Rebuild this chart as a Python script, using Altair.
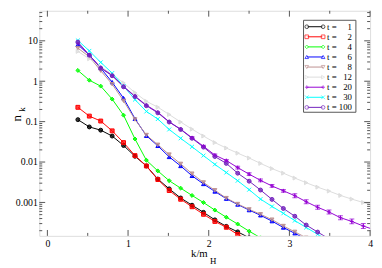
import altair as alt
import pandas as pd

# ---------------- data ----------------
k = [0.378, 0.52, 0.661, 0.803, 0.944, 1.086, 1.227, 1.369, 1.51, 1.652,
     1.793, 1.935, 2.076, 2.218, 2.359, 2.501, 2.642, 2.784, 2.925, 3.067,
     3.208, 3.35, 3.491, 3.633, 3.774, 3.916, 4.057]

n_t1 = [0.112, 0.074, 0.0615, 0.044, 0.0257, 0.0139, 0.0080, 0.0038, 0.00217, 0.00129,
        0.000855, 0.000569, 0.000371, 0.000256, 0.000187, 0.000134]
n_t2 = [0.226, 0.137, 0.1035, 0.0592, 0.0303, 0.01445, 0.0080, 0.00369, 0.00197, 0.0012,
        0.000783, 0.000509, 0.000339, 0.000243, 0.000161, 0.000119]
n_t4 = [1.85, 1.06, 0.757, 0.361, 0.1445, 0.0372, 0.0111, 0.00603, 0.00345, 0.00226,
        0.00149, 0.000995, 0.000647, 0.000431, 0.000292, 0.000194, 0.000134]
n_t6 = [8.0, 4.43, 2.10, 0.946, 0.381, 0.118, 0.0448, 0.0252, 0.0134, 0.0080,
        0.00456, 0.00287, 0.00187, 0.00124, 0.00089, 0.000647, 0.000482, 0.000345,
        0.00024, 0.000172, 0.000123]
n_t8 = [6.6, 4.03, 1.82, 0.846, 0.328, 0.113, 0.0466, 0.0267, 0.0153, 0.0090,
        0.00515, 0.00312, 0.0020, 0.00128, 0.000914, 0.000673, 0.000509, 0.000375,
        0.000261, 0.000187, 0.000134]
n_t12 = [5.47, 3.61, 2.31, 1.48, 0.91, 0.521, 0.319, 0.228, 0.150, 0.0977,
         0.0652, 0.044, 0.0303, 0.0222, 0.0166, 0.01256, 0.00925, 0.00689, 0.0053,
         0.00401, 0.00308, 0.00239, 0.00191, 0.00149, 0.00121, 0.000995, 0.000818]
n_t20 = [8.79, 4.39, 2.18, 1.40, 0.745, 0.427, 0.255, 0.171, 0.0989, 0.0652,
         0.0398, 0.0245, 0.0149, 0.0109, 0.00728, 0.00501, 0.00352, 0.00256, 0.00194,
         0.00147, 0.00104, 0.00076, 0.00058, 0.000419, 0.000339, 0.000261, 0.000209]
err_t20 = [0, 0, 0, 0, 0, 0, 0, 0, 0, 0,
           0.025, 0.025, 0.025, 0.025, 0.035, 0.035, 0.035, 0.035, 0.035,
           0.05, 0.05, 0.05, 0.05, 0.05, 0.06, 0.06, 0.06]  # half-width, decades
n_t30 = [10.2, 5.64, 2.93, 1.59, 0.757, 0.351, 0.179, 0.116, 0.064, 0.0387,
         0.0239, 0.01445, 0.00875, 0.0055, 0.00345, 0.00207, 0.00121, 0.000796,
         0.000538, 0.000355, 0.00024, 0.000163, 0.000113]
n_t100 = [9.31, 4.43, 2.10, 1.37, 0.728, 0.417, 0.248, 0.165, 0.0977, 0.064,
          0.0387, 0.0234, 0.0137, 0.00925, 0.0053, 0.00336, 0.00203, 0.00119,
          0.00071, 0.000456, 0.000276, 0.000185, 0.000126]

t_labels = ["1", "2", "4", "6", "8", "12", "20", "30", "100"]
series_vals = [n_t1, n_t2, n_t4, n_t6, n_t8, n_t12, n_t20, n_t30, n_t100]
colors = ["#000000", "#ff0000", "#00ff00", "#0000ff", "#bc8f8f",
          "#dcdcdc", "#9400d3", "#00ffff", "#7221bc"]
shapes = ["circle", "square", "diamond", "triangle-up", "triangle-down",
          "triangle-right", "M-1,0L1,0M0,-1L0,1", "M-1,-1L1,1M-1,1L1,-1", "circle"]

x_major = [0, 1, 2, 3, 4]
x_minor = [0.5, 1.5, 2.5, 3.5]
y_major = [0.001, 0.01, 0.1, 1, 10]
y_minor = [m * d for d in [0.0001, 0.001, 0.01, 0.1, 1, 10] for m in range(2, 10)
           if 1.49e-4 <= m * d <= 55.4]

# ---------------- tables ----------------
rows = []
for lab, vals in zip(t_labels, series_vals):
    for kk, vv in zip(k, vals):
        rows.append({"series": lab, "k": kk, "n": vv})
df = pd.DataFrame(rows)

err_rows = []
for kk, vv, ee in zip(k, n_t20, err_t20):
    if ee > 0:
        err_rows.append({"k": kk, "lo": vv / (10 ** ee), "hi": vv * (10 ** ee)})
df_err = pd.DataFrame(err_rows)

df_leg = pd.DataFrame({"series": t_labels, "r": list(range(len(t_labels))),
                       "num": t_labels})

# ---------------- scales / axes ----------------
W, H = 338, 230
SERIF = "Liberation Serif"
FRAME = "#555555"

xscale = alt.Scale(domain=[-0.1, 4], nice=False, zero=False)
yscale = alt.Scale(type="log", domain=[1.49e-4, 55.4], nice=False)
xaxis = alt.Axis(values=x_major, ticks=False, tickSize=0, domain=False, grid=False,
                 title=None, labelFont=SERIF, labelFontSize=10, labelColor="black",
                 labelPadding=3, labelFlush=False)
yaxis = alt.Axis(values=y_major, format="~g", ticks=False, tickSize=0, domain=False,
                 grid=False, title=None, labelFont=SERIF, labelFontSize=10,
                 labelColor="black", labelPadding=2, labelFlush=False)
cscale = alt.Scale(domain=t_labels, range=colors)
sscale = alt.Scale(domain=t_labels, range=shapes)

X = alt.X("k:Q", scale=xscale, axis=xaxis)
Y = alt.Y("n:Q", scale=yscale, axis=yaxis)

lines = alt.Chart(df).mark_line(strokeWidth=1, clip=True).encode(
    x=X, y=Y,
    color=alt.Color("series:N", scale=cscale, legend=None),
    detail="series:N",
)
points = alt.Chart(df).mark_point(size=16, strokeWidth=1, fillOpacity=0.75,
                                  filled=False, clip=True).encode(
    x=X, y=Y,
    color=alt.Color("series:N", scale=cscale, legend=None),
    fill=alt.Fill("series:N", scale=cscale, legend=None),
    shape=alt.Shape("series:N", scale=sscale, legend=None),
)
ebars = alt.Chart(df_err).mark_rule(color="#9400d3", strokeWidth=1, clip=True).encode(
    x=X, y=alt.Y("lo:Q", scale=yscale, axis=yaxis), y2="hi:Q")
cap_lo = alt.Chart(df_err).mark_tick(color="#9400d3", orient="horizontal", size=5,
                                     thickness=1, clip=True).encode(
    x=X, y=alt.Y("lo:Q", scale=yscale, axis=yaxis))
cap_hi = alt.Chart(df_err).mark_tick(color="#9400d3", orient="horizontal", size=5,
                                     thickness=1, clip=True).encode(
    x=X, y=alt.Y("hi:Q", scale=yscale, axis=yaxis))

dxM = pd.DataFrame({"k": x_major})
dxm = pd.DataFrame({"k": x_minor})
dyM = pd.DataFrame({"n": y_major})
dym = pd.DataFrame({"n": y_minor})


def xt(d, y0, y1):
    return alt.Chart(d).mark_rule(color=FRAME, strokeWidth=1).encode(
        x=X, y=alt.value(y0), y2=alt.value(y1))


def yt(d, x0, x1):
    return alt.Chart(d).mark_rule(color=FRAME, strokeWidth=1).encode(
        y=Y, x=alt.value(x0), x2=alt.value(x1))


ticks = [xt(dxM, H, H - 6), xt(dxM, 0, 6), xt(dxm, H, H - 3), xt(dxm, 0, 3),
         yt(dyM, 0, 6), yt(dyM, W, W - 6), yt(dym, 0, 3), yt(dym, W, W - 3)]

main = alt.layer(lines, points, ebars, cap_lo, cap_hi, *ticks)

# ---------------- legend & titles ----------------
LY = alt.Y("r:Q", scale=alt.Scale(domain=[0, 8], range=[16.3, 98.7]), axis=None)
one = pd.DataFrame({"a": [0]})
box = alt.Chart(one).mark_rect(fill="white", stroke=FRAME, strokeWidth=1).encode(
    x=alt.value(270), x2=alt.value(323.5), y=alt.value(9.7), y2=alt.value(103.7))
leg_line = alt.Chart(df_leg).mark_rule(strokeWidth=1).encode(
    x=alt.value(273.3), x2=alt.value(290), y=LY,
    color=alt.Color("series:N", scale=cscale, legend=None))


def leg_pt(xv):
    return alt.Chart(df_leg).mark_point(size=14, strokeWidth=1, filled=False,
                                        fill="white").encode(
        x=alt.value(xv), y=LY,
        color=alt.Color("series:N", scale=cscale, legend=None),
        shape=alt.Shape("series:N", scale=sscale, legend=None))


leg_t = alt.Chart(df_leg).mark_text(align="left", baseline="middle", font=SERIF,
                                    fontSize=9, color="black").encode(
    x=alt.value(294), y=LY, text=alt.value("t ="))
leg_n = alt.Chart(df_leg).mark_text(align="right", baseline="middle", font=SERIF,
                                    fontSize=9, color="black").encode(
    x=alt.value(319.5), y=LY, text="num:N")

t_n = alt.Chart(one).mark_text(angle=270, font=SERIF, fontSize=13, color="black",
                               baseline="alphabetic", align="center").encode(
    x=alt.value(-19), y=alt.value(110), text=alt.value("n"))
t_k = alt.Chart(one).mark_text(angle=270, font=SERIF, fontSize=9, color="black",
                               baseline="alphabetic", align="center").encode(
    x=alt.value(-15), y=alt.value(101), text=alt.value("k"))
t_km = alt.Chart(one).mark_text(font=SERIF, fontSize=11, color="black",
                                baseline="alphabetic", align="left").encode(
    x=alt.value(155), y=alt.value(251.5), text=alt.value("k/m"))
t_H = alt.Chart(one).mark_text(font=SERIF, fontSize=9, color="black",
                               baseline="alphabetic", align="left").encode(
    x=alt.value(174.5), y=alt.value(258.5), text=alt.value("H"))

legend = alt.layer(box, leg_line, leg_pt(273.3), leg_pt(290), leg_t, leg_n,
                   t_n, t_k, t_km, t_H)

chart = alt.layer(main, legend).resolve_scale(y="independent").properties(
    width=W, height=H,
    autosize=alt.AutoSizeParams(type="none"),
    padding={"left": 32, "top": 0, "right": 4, "bottom": 30},
).configure_view(stroke=FRAME, strokeWidth=1.5).configure(background="white")

chart.save("out.html", embed_options={"renderer": "svg", "actions": False})
